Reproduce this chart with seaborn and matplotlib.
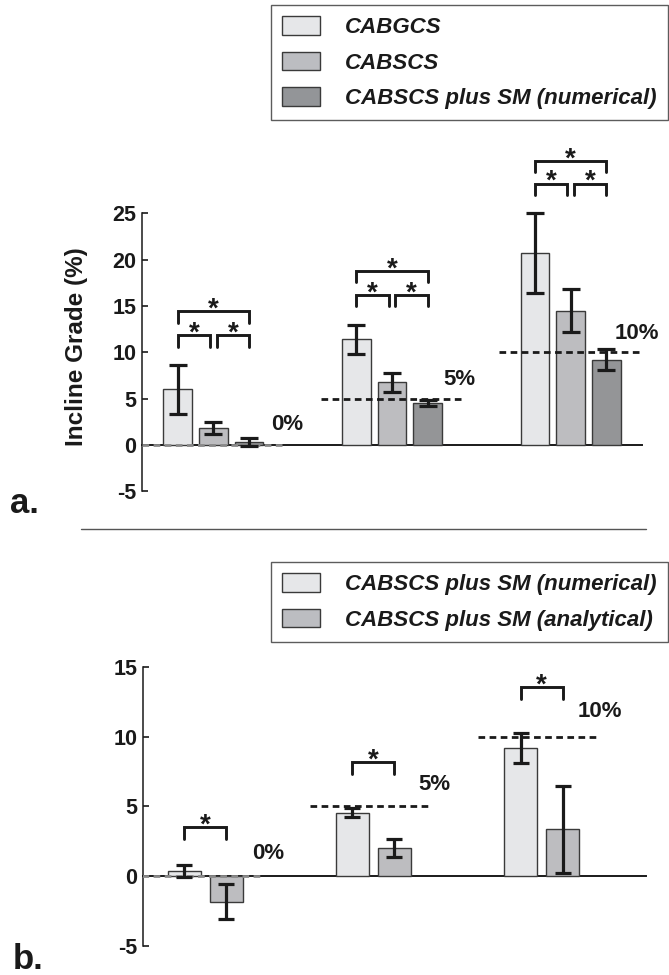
import numpy as np
import pandas as pd
import matplotlib
matplotlib.use("Agg")
import matplotlib.pyplot as plt
from matplotlib.patches import Patch
from matplotlib.lines import Line2D
from matplotlib.font_manager import FontProperties
import seaborn as sns

# ---- data -------------------------------------------------------------
grades = ["0%", "5%", "10%"]
target_grade = [0, 5, 10]

series_a = ["CABGCS", "CABSCS", "CABSCS plus SM (numerical)"]
cabgcs = [6.0, 11.4, 20.7]
cabgcs_err = [2.65, 1.55, 4.3]
cabscs = [1.8, 6.75, 14.5]
cabscs_err = [0.65, 1.0, 2.35]
sm_numerical = [0.35, 4.55, 9.2]
sm_numerical_err = [0.45, 0.3, 1.1]

series_b = ["CABSCS plus SM (numerical)", "CABSCS plus SM (analytical)"]
sm_analytical = [-1.85, 2.0, 3.35]
sm_analytical_err = [1.25, 0.65, 3.1]

# significance brackets: (lower edge, upper edge) per grade
a_small_brackets = [(10.6, 11.85), (14.95, 16.2), (26.95, 28.2)]
a_large_brackets = [(13.15, 14.4), (17.6, 18.8), (29.45, 30.65)]
b_brackets = [(2.65, 3.5), (7.35, 8.15), (12.7, 13.55)]

# ---- style ------------------------------------------------------------
sns.set_theme(style="white")
plt.rcParams["font.family"] = ["Liberation Sans", "DejaVu Sans"]
plt.rcParams["font.weight"] = "bold"

light, mid, dark = "#e6e7e9", "#bcbdc1", "#939598"
edge = "#3a3a3a"
ink = "#1a1a1a"
W, H = 669, 975
fig = plt.figure(figsize=(W / 100, H / 100), dpi=100)


def axes_rect(left, right, top, bottom):
    return [left / W, 1 - bottom / H, (right - left) / W, (bottom - top) / H]


def style_axes(ax, ymin, ymax, ticks):
    ax.set_xlabel("")
    ax.set_ylabel("")
    ax.set_xticks([])
    ax.set_yticks(ticks)
    ax.set_yticklabels([str(t) for t in ticks], fontweight="bold")
    ax.tick_params(axis="y", direction="in", length=4, width=1.2,
                   labelsize=15.5, pad=4, left=True, colors=ink)
    for s in ["top", "right"]:
        ax.spines[s].set_visible(False)
    ax.spines["left"].set_bounds(ymin, ymax)
    ax.spines["left"].set_color(ink)
    ax.spines["left"].set_linewidth(1.1)
    ax.spines["bottom"].set_position(("data", 0))
    ax.spines["bottom"].set_color(ink)
    ax.spines["bottom"].set_linewidth(1.4)
    ax.set_facecolor("none")


def add_errorbars(ax, errs, cap):
    for p, e in zip(list(ax.patches), errs):
        x = p.get_x() + p.get_width() / 2
        y = p.get_y() + p.get_height()
        ax.errorbar(x, y, yerr=e, fmt="none", ecolor=ink,
                    elinewidth=2.3, capsize=cap, capthick=2.3, zorder=6)


def bracket(ax, x0, x1, lo, hi):
    ax.plot([x0, x0, x1, x1], [lo, hi, hi, lo], color=ink,
            lw=2.1, solid_joinstyle="miter", zorder=6, clip_on=False)
    ax.annotate("*", xy=((x0 + x1) / 2, hi), xytext=(0, -4),
                textcoords="offset points", ha="center", va="baseline",
                fontsize=20, fontweight="bold", color=ink,
                annotation_clip=False)


def target_lines(ax, lo, hi, label_dx, label_y):
    for i, t in enumerate(target_grade):
        colour = "#8a8a8a" if t == 0 else ink
        ax.hlines(t, i + lo, i + hi, colors=colour, linestyles=(0, (2.4, 1.6)),
                  lw=2.0, zorder=5)
        ax.text(i + label_dx[i], label_y[i], grades[i], ha="center", va="center",
                fontsize=16, fontweight="bold", color=ink)


# ---- panel a ----------------------------------------------------------
df_a = pd.DataFrame({
    "grade": grades * 3,
    "series": np.repeat(series_a, 3),
    "value": cabgcs + cabscs + sm_numerical,
})
ax_a = fig.add_axes(axes_rect(142, 642, 129.8, 494.1))
sns.barplot(data=df_a, x="grade", y="value", hue="series", order=grades,
            hue_order=series_a, palette=[light, mid, dark], width=0.6, gap=0.2,
            edgecolor=edge, linewidth=1.0, errorbar=None, legend=False,
            ax=ax_a, zorder=3)
add_errorbars(ax_a, cabgcs_err + cabscs_err + sm_numerical_err, cap=6.5)
ax_a.set_xlim(-0.4, 2.4)
ax_a.set_ylim(-5.3, 34)
style_axes(ax_a, -5, 25, [-5, 0, 5, 10, 15, 20, 25])
ax_a.set_ylabel("Incline Grade (%)", fontsize=17.5, fontweight="bold", color=ink)
ax_a.yaxis.set_label_coords(-0.108, 0.404)
target_lines(ax_a, -0.4, 0.4, [0.414, 0.378, 0.37], [2.2, 7.1, 12.0])
for i in range(3):
    lo, hi = a_small_brackets[i]
    bracket(ax_a, i - 0.2, i - 0.018, lo, hi)
    bracket(ax_a, i + 0.018, i + 0.2, lo, hi)
    lo, hi = a_large_brackets[i]
    bracket(ax_a, i - 0.2, i + 0.2, lo, hi)

# ---- panel b ----------------------------------------------------------
df_b = pd.DataFrame({
    "grade": grades * 2,
    "series": np.repeat(series_b, 3),
    "value": sm_numerical + sm_analytical,
})
ax_b = fig.add_axes(axes_rect(142.9, 645.7, 662.9, 949.8))
sns.barplot(data=df_b, x="grade", y="value", hue="series", order=grades,
            hue_order=series_b, palette=[light, mid], width=0.5, gap=0.2,
            edgecolor=edge, linewidth=1.0, errorbar=None, legend=False,
            ax=ax_b, zorder=3)
add_errorbars(ax_b, sm_numerical_err + sm_analytical_err, cap=6.0)
ax_b.set_xlim(-0.372, 2.62)
ax_b.set_ylim(-5.3, 15.3)
style_axes(ax_b, -5, 15, [-5, 0, 5, 10, 15])
target_lines(ax_b, -0.375, 0.35, [0.372, 0.36, 0.35], [1.65, 6.55, 11.8])
for i in range(3):
    lo, hi = b_brackets[i]
    bracket(ax_b, i - 0.125, i + 0.125, lo, hi)

# ---- legends ----------------------------------------------------------
leg_font = FontProperties(family="Liberation Sans", weight="bold",
                          style="italic", size=16)


def make_legend(labels, colours, top_px):
    handles = [Patch(facecolor=c, edgecolor=edge, linewidth=1.0) for c in colours]
    leg = fig.legend(handles, labels, loc="upper right",
                     bbox_to_anchor=(668 / W, 1 - top_px / H),
                     bbox_transform=fig.transFigure, prop=leg_font,
                     frameon=True, fancybox=False, shadow=False,
                     handlelength=1.7, handleheight=0.9, handletextpad=1.15,
                     labelspacing=0.62, borderpad=0.5, borderaxespad=0)
    leg.get_frame().set_edgecolor("#333333")
    leg.get_frame().set_linewidth(1.0)
    for t in leg.get_texts():
        t.set_color(ink)
    return leg


make_legend(series_a, [light, mid, dark], 5)
make_legend(series_b, [light, mid], 562)

# ---- panel labels and divider ----------------------------------------
fig.text(10 / W, 1 - 513 / H, "a.", fontsize=25, fontweight="bold",
         color=ink, va="baseline", ha="left")
fig.text(13 / W, 1 - 969 / H, "b.", fontsize=25, fontweight="bold",
         color=ink, va="baseline", ha="left")
fig.add_artist(Line2D([81 / W, 646 / W], [1 - 529 / H, 1 - 529 / H],
                      transform=fig.transFigure, color="#555555", lw=1.0))

fig.savefig("out.png", dpi=100)
